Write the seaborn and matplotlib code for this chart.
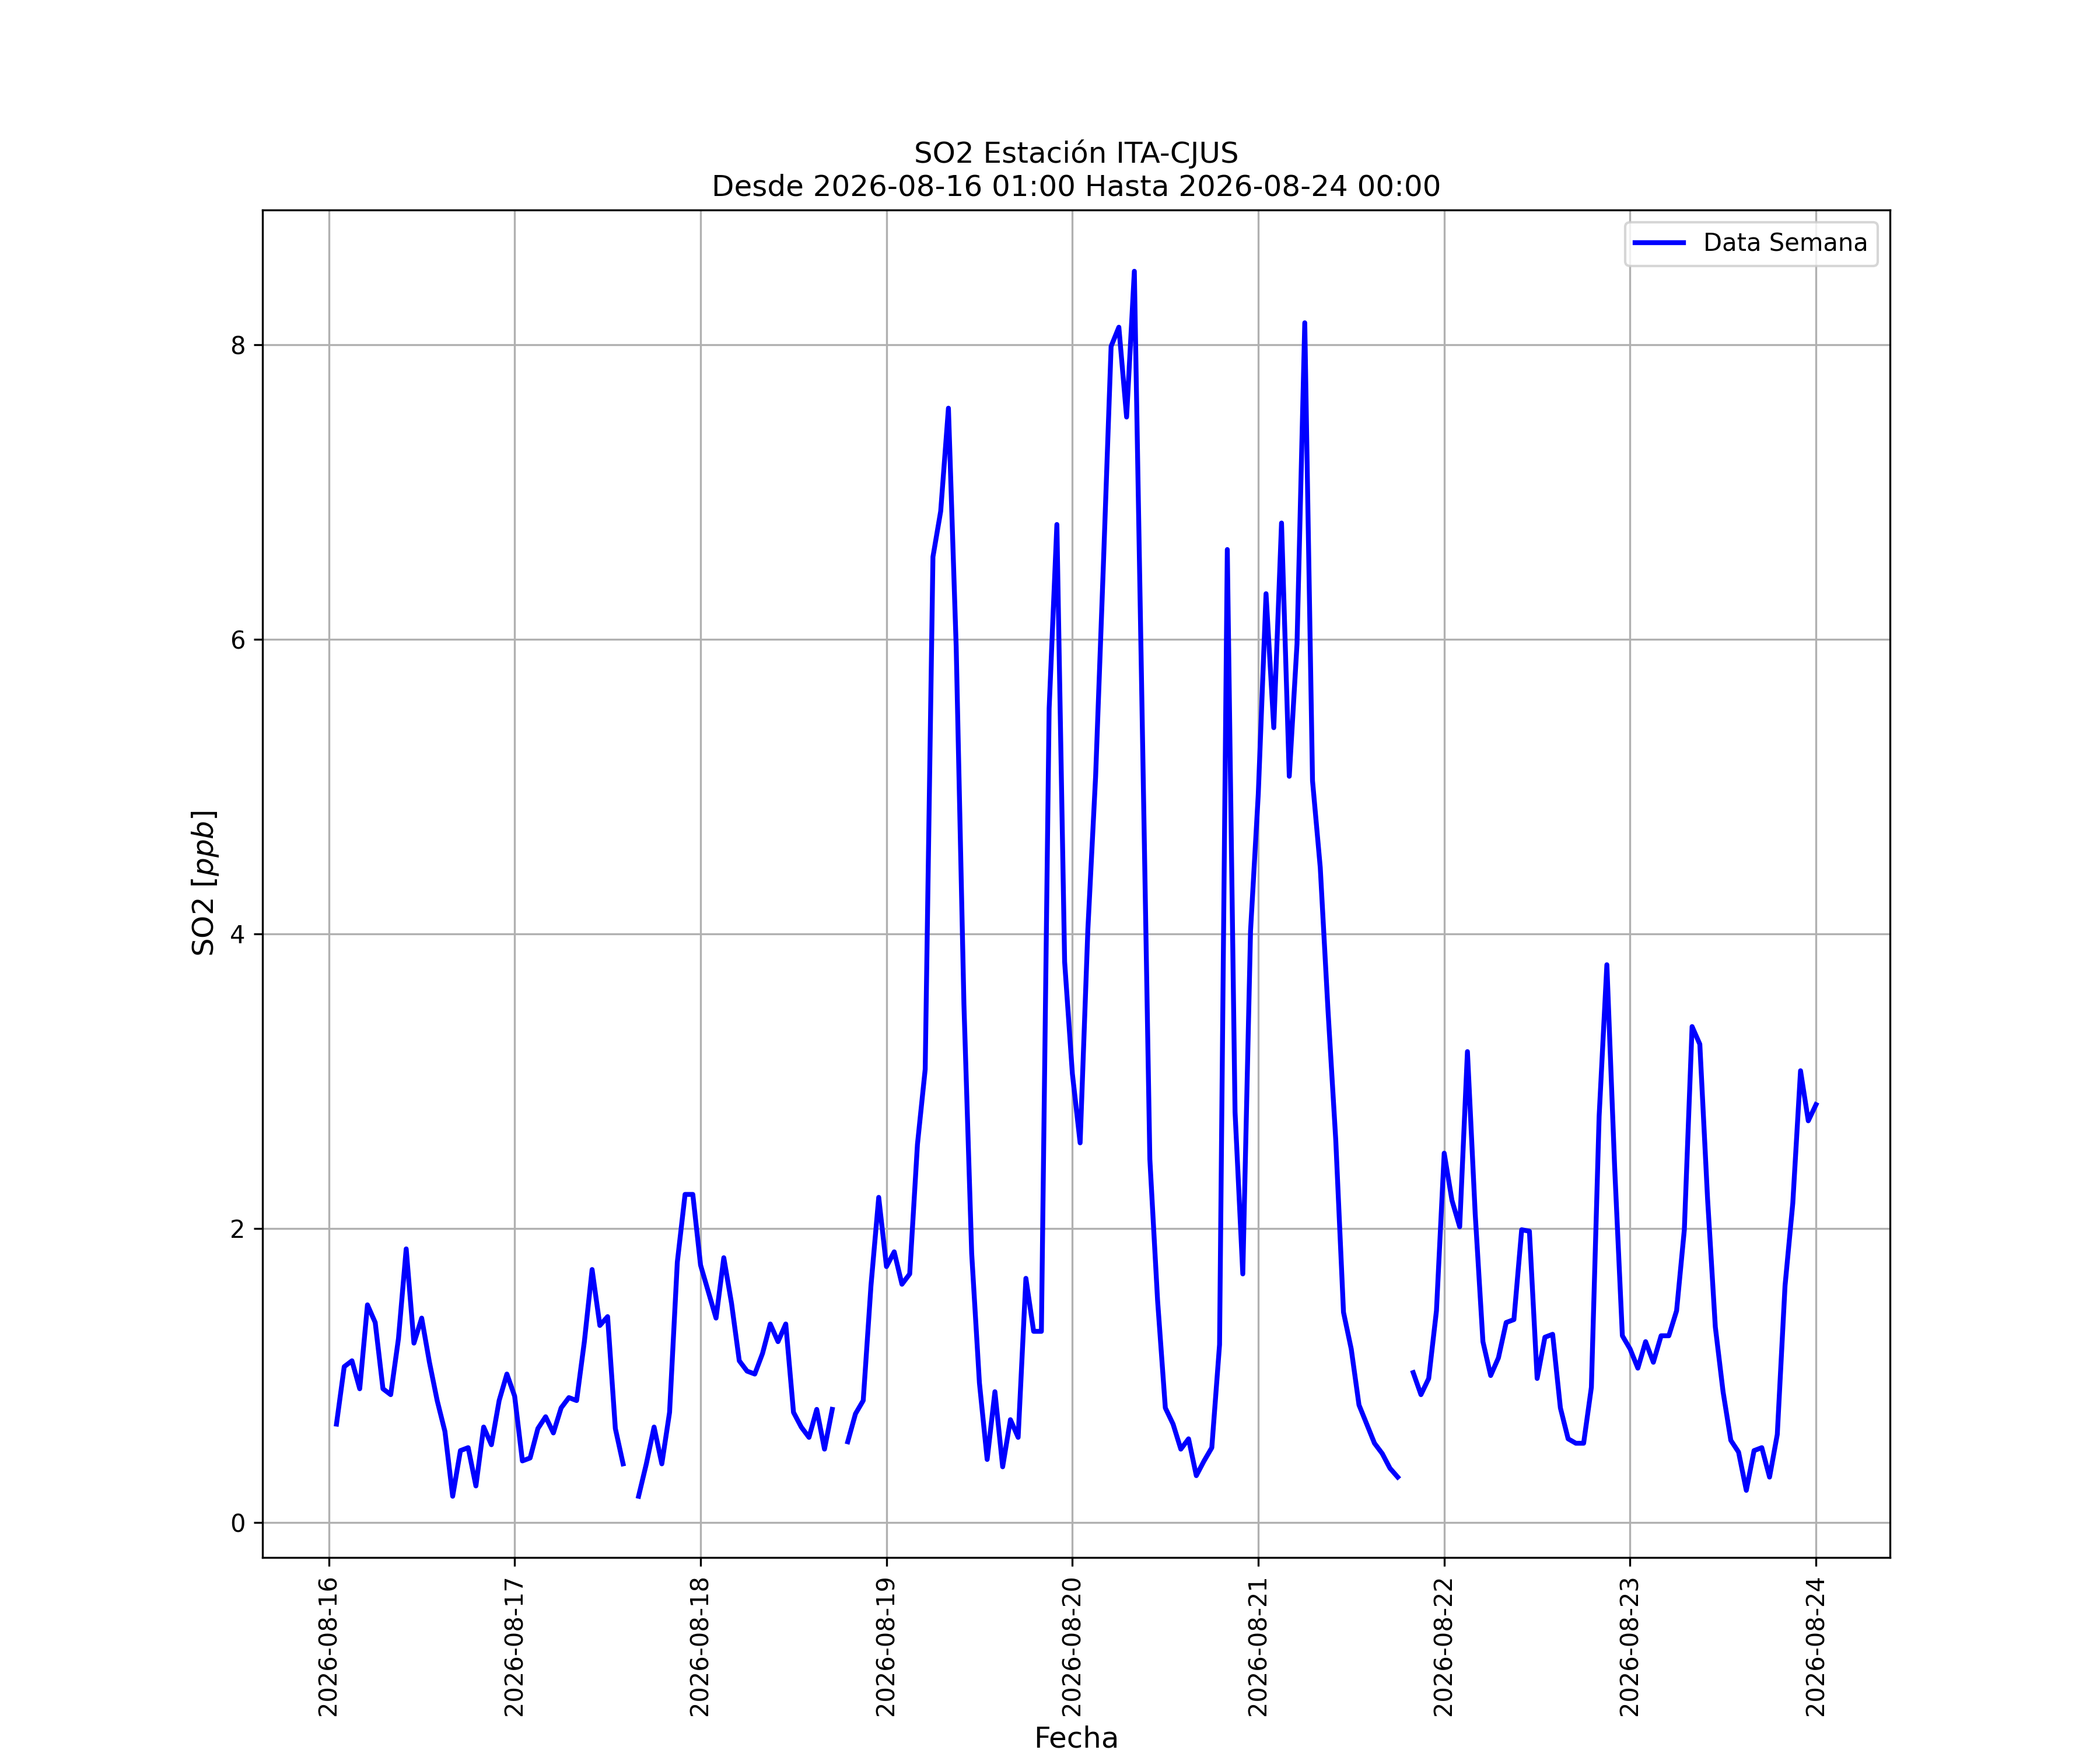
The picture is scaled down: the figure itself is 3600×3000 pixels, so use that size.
import numpy as np
import pandas as pd
import seaborn as sns
import matplotlib
matplotlib.use('Agg')
import matplotlib.pyplot as plt
import matplotlib.dates as mdates

nan = np.nan

# hourly SO2 [ppb], 2026-08-16 01:00 .. 2026-08-24 00:00 (24 values per block)
dia_16 = [0.67, 1.06, 1.10, 0.91, 1.48, 1.36, 0.91, 0.87, 1.25, 1.86, 1.22, 1.39,
          1.09, 0.83, 0.62, 0.18, 0.49, 0.51, 0.25, 0.65, 0.53, 0.83, 1.01, 0.86]
dia_17 = [0.42, 0.44, 0.64, 0.72, 0.61, 0.78, 0.85, 0.83, 1.23, 1.72, 1.34, 1.40,
          0.64, 0.40, nan, 0.18, 0.40, 0.65, 0.40, 0.75, 1.77, 2.23, 2.23, 1.75]
dia_18 = [1.57, 1.39, 1.80, 1.49, 1.10, 1.03, 1.01, 1.15, 1.35, 1.23, 1.35, 0.75,
          0.65, 0.58, 0.77, 0.50, 0.77, nan, 0.55, 0.74, 0.83, 1.61, 2.21, 1.74]
dia_19 = [1.84, 1.62, 1.69, 2.57, 3.08, 6.56, 6.87, 7.57, 5.95, 3.52, 1.83, 0.95,
          0.43, 0.89, 0.38, 0.70, 0.58, 1.66, 1.30, 1.30, 5.53, 6.78, 3.81, 3.05]
dia_20 = [2.58, 4.03, 5.07, 6.50, 7.99, 8.12, 7.51, 8.50, 5.50, 2.47, 1.51, 0.78,
          0.67, 0.50, 0.57, 0.32, 0.42, 0.51, 1.21, 6.61, 2.79, 1.69, 4.02, 4.95]
dia_21 = [6.31, 5.40, 6.79, 5.07, 5.97, 8.15, 5.04, 4.45, 3.48, 2.60, 1.43, 1.18,
          0.80, 0.67, 0.54, 0.47, 0.37, 0.31, nan, 1.02, 0.87, 0.98, 1.44, 2.51]
dia_22 = [2.19, 2.01, 3.20, 2.10, 1.23, 1.00, 1.12, 1.36, 1.38, 1.99, 1.98, 0.98,
          1.26, 1.28, 0.78, 0.57, 0.54, 0.54, 0.92, 2.76, 3.79, 2.42, 1.27, 1.18]
dia_23 = [1.05, 1.23, 1.09, 1.27, 1.27, 1.44, 1.99, 3.37, 3.25, 2.20, 1.33, 0.89,
          0.56, 0.48, 0.22, 0.49, 0.51, 0.31, 0.60, 1.61, 2.17, 3.07, 2.73, 2.84]

inicio = '2026-08-16 01:00'
fin = '2026-08-24 00:00'

valores = dia_16 + dia_17 + dia_18 + dia_19 + dia_20 + dia_21 + dia_22 + dia_23
fechas = pd.date_range(inicio, fin, freq='h')
df = pd.DataFrame({'Fecha': fechas, 'SO2': valores})
# seaborn drops NaN and would join the gaps, so split into pieces
df['tramo'] = df['SO2'].isna().cumsum()
df = df.dropna()

fig, ax = plt.subplots(figsize=(12, 10), dpi=300)
for i, (k, sub) in enumerate(df.groupby('tramo')):
    sns.lineplot(data=sub, x='Fecha', y='SO2', ax=ax, color='blue', linewidth=2,
                 estimator=None, label='Data Semana' if i == 0 else None,
                 legend=False)

ax.set_title('SO2 Estación ITA-CJUS\nDesde ' + inicio + ' Hasta ' + fin)
ax.set_xlabel('Fecha', fontsize=12)
ax.set_ylabel('SO2 [$ppb$]', fontsize=12)
ax.xaxis.set_major_locator(mdates.DayLocator())
ax.xaxis.set_major_formatter(mdates.DateFormatter('%Y-%m-%d'))
plt.setp(ax.get_xticklabels(), rotation=90)
ax.set_yticks([0, 2, 4, 6, 8])
ax.grid(True)
ax.legend(handles=[ax.lines[0]], labels=['Data Semana'], loc='upper right')

fig.savefig('out.png', dpi=300)
